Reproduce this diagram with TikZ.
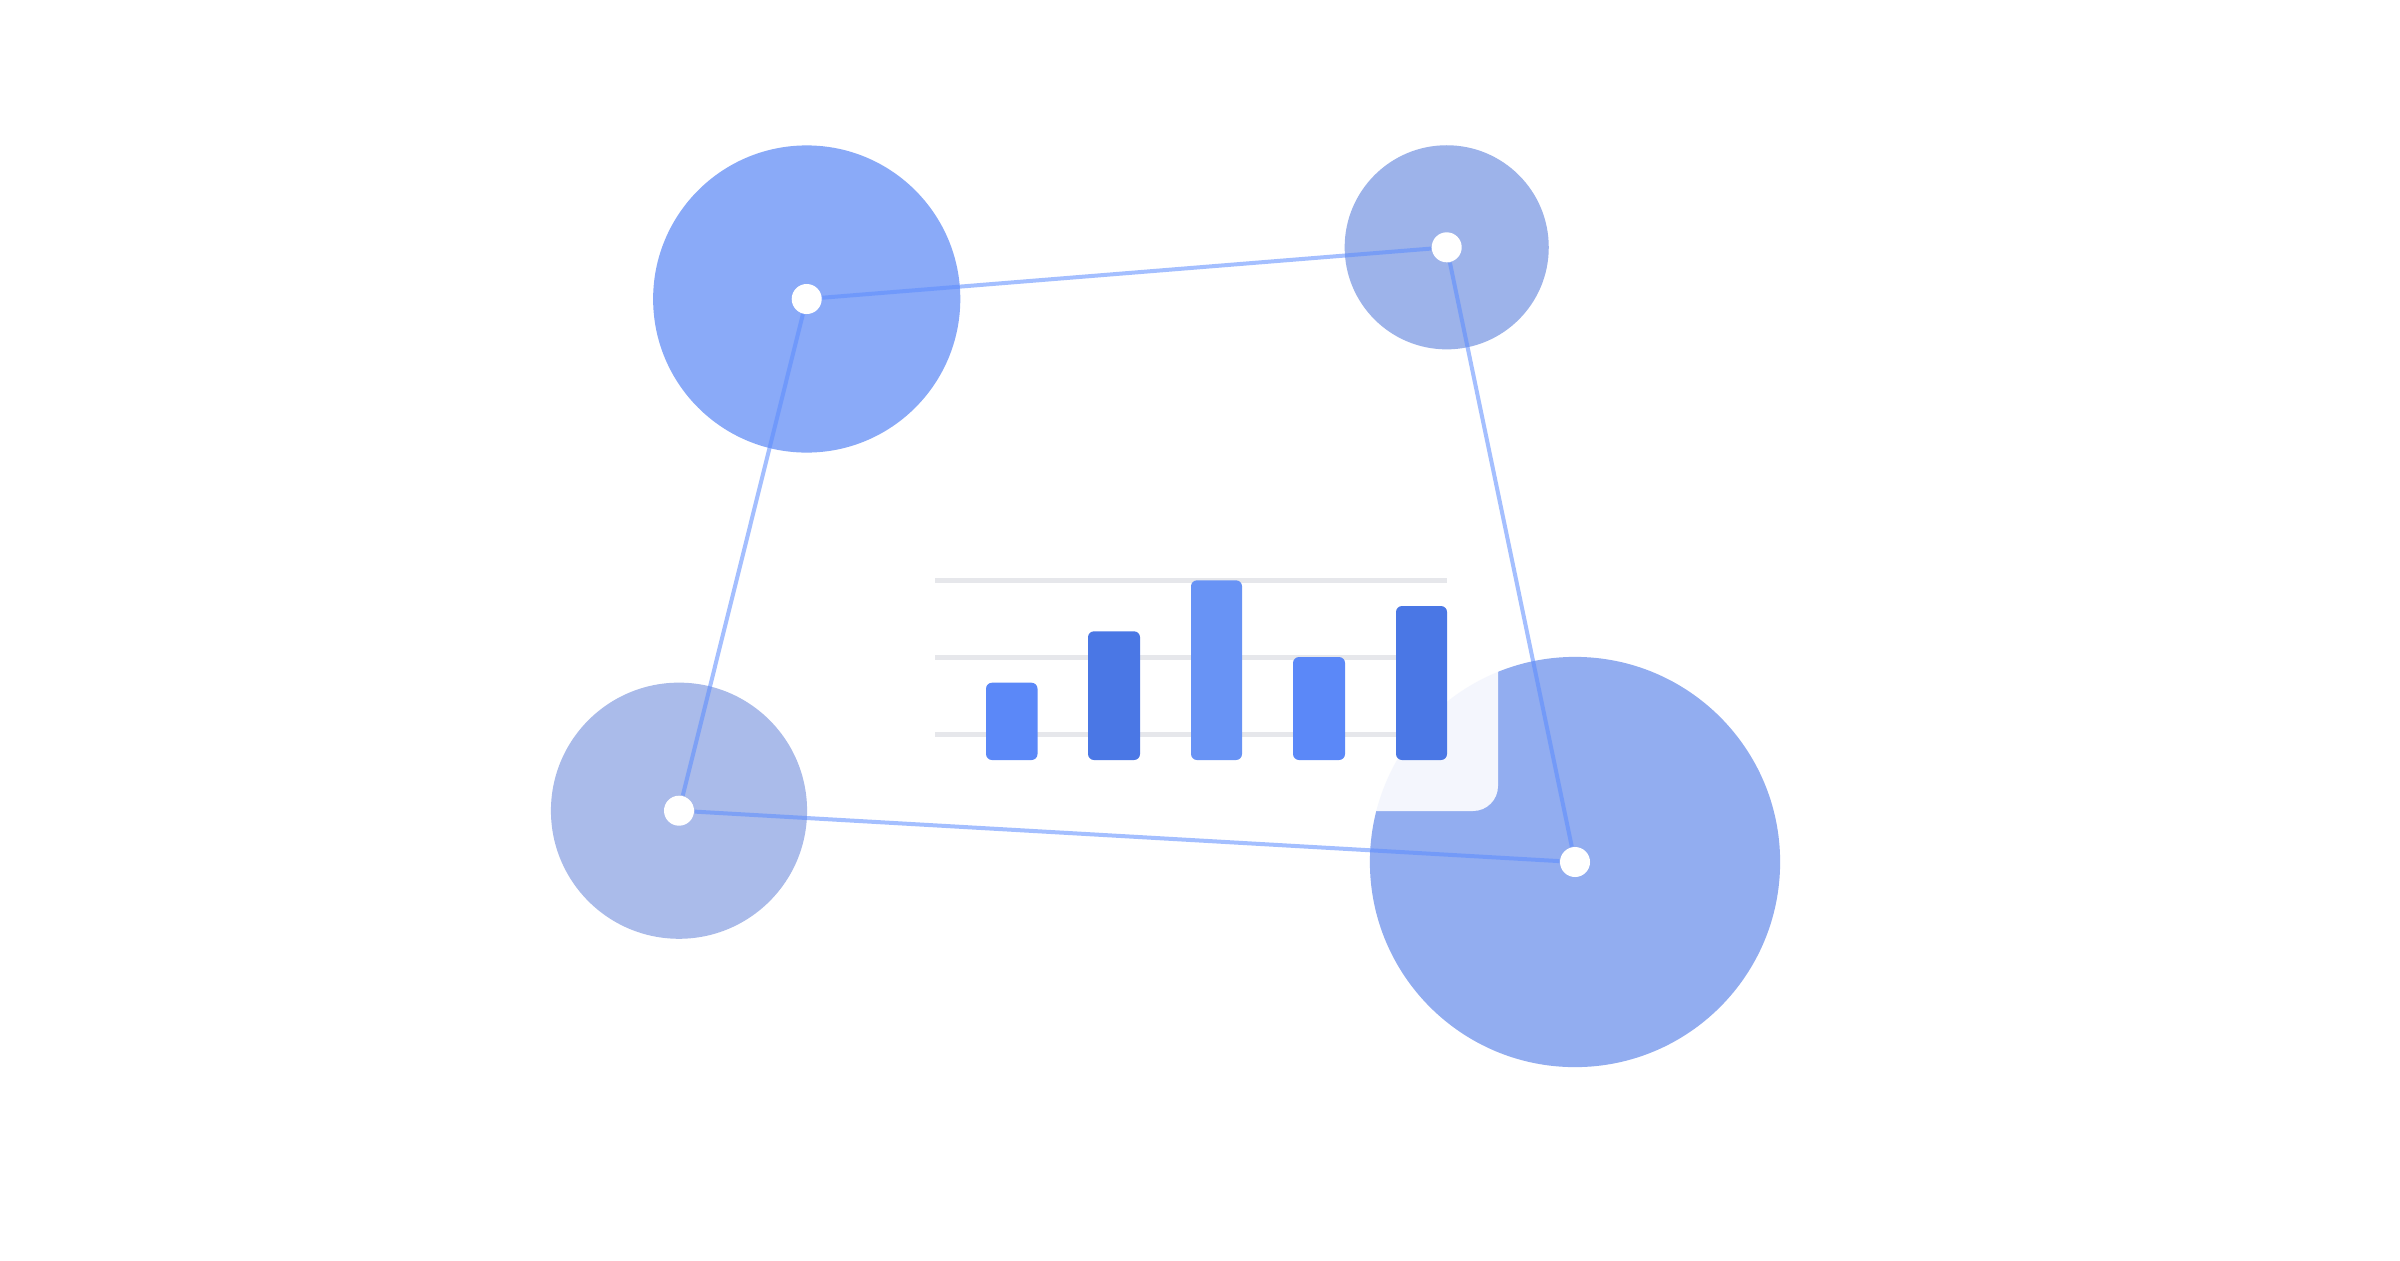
\documentclass[tikz,border=0pt]{standalone}
\pgfdeclarelayer{bg}
\pgfsetlayers{bg,main}
\definecolor{cTL}{HTML}{8AAAF8}
\definecolor{cTR}{HTML}{9DB3EA}
\definecolor{cBL}{HTML}{AABBEA}
\definecolor{cBR}{HTML}{92ADF0}
\definecolor{linkc}{HTML}{5B8CFF}
\definecolor{gridc}{HTML}{E6E7EB}
\definecolor{barA}{HTML}{5B88F8}
\definecolor{barB}{HTML}{4A77E5}
\definecolor{barC}{HTML}{6893F5}
\tikzset{
  blob/.style={circle, inner sep=0pt, draw=none},
  dot/.style={circle, inner sep=0pt, minimum size=0.30cm, fill=white, draw=none},
  link/.style={draw=linkc, draw opacity=0.55, line width=0.04cm},
  gridline/.style={draw=gridc, line width=0.05cm},
  bar/.style={rounded corners=0.06cm},
  card/.style={fill=white, fill opacity=0.9, rounded corners=0.25cm}
}
\begin{document}
\begin{tikzpicture}[x={(0.01cm,0)}, y={(0,-0.01cm)}]
\useasboundingbox (0,0) rectangle (2400,1260);
% dots (top layer)
\node[dot] (dTL) at (806.7,299) {};
\node[dot] (dTR) at (1446.7,247.3) {};
\node[dot] (dBL) at (679,810.7) {};
\node[dot] (dBR) at (1575,862) {};
\begin{pgfonlayer}{bg}
  \fill[white] (0,0) rectangle (2400,1260);
  \node[blob, fill=cTL, minimum size=3.07cm] (cTLn) at (dTL.center) {};
  \node[blob, fill=cTR, minimum size=2.04cm] (cTRn) at (dTR.center) {};
  \node[blob, fill=cBL, minimum size=2.56cm] (cBLn) at (dBL.center) {};
  \node[blob, fill=cBR, minimum size=4.10cm] (cBRn) at (dBR.center) {};
  % card
  \path[card] (900,520) rectangle (1498,811);
  % grid lines
  \draw[gridline] (935,580.5) -- (1447,580.5);
  \draw[gridline] (935,657.5) -- (1447,657.5);
  \draw[gridline] (935,734.5) -- (1447,734.5);
  % bars
  \fill[bar, barA] (986,760) rectangle (1037.5,682.7);
  \fill[bar, barB] (1088,760) rectangle (1140,631.3);
  \fill[bar, barC] (1191,760) rectangle (1242,580.3);
  \fill[bar, barA] (1293,760) rectangle (1345,657);
  \fill[bar, barB] (1396,760) rectangle (1447,606);
  % connectors
  \draw[link] (dTL) -- (dTR);
  \draw[link] (dTR) -- (dBR);
  \draw[link] (dBR) -- (dBL);
  \draw[link] (dBL) -- (dTL);
\end{pgfonlayer}
\end{tikzpicture}
\end{document}
